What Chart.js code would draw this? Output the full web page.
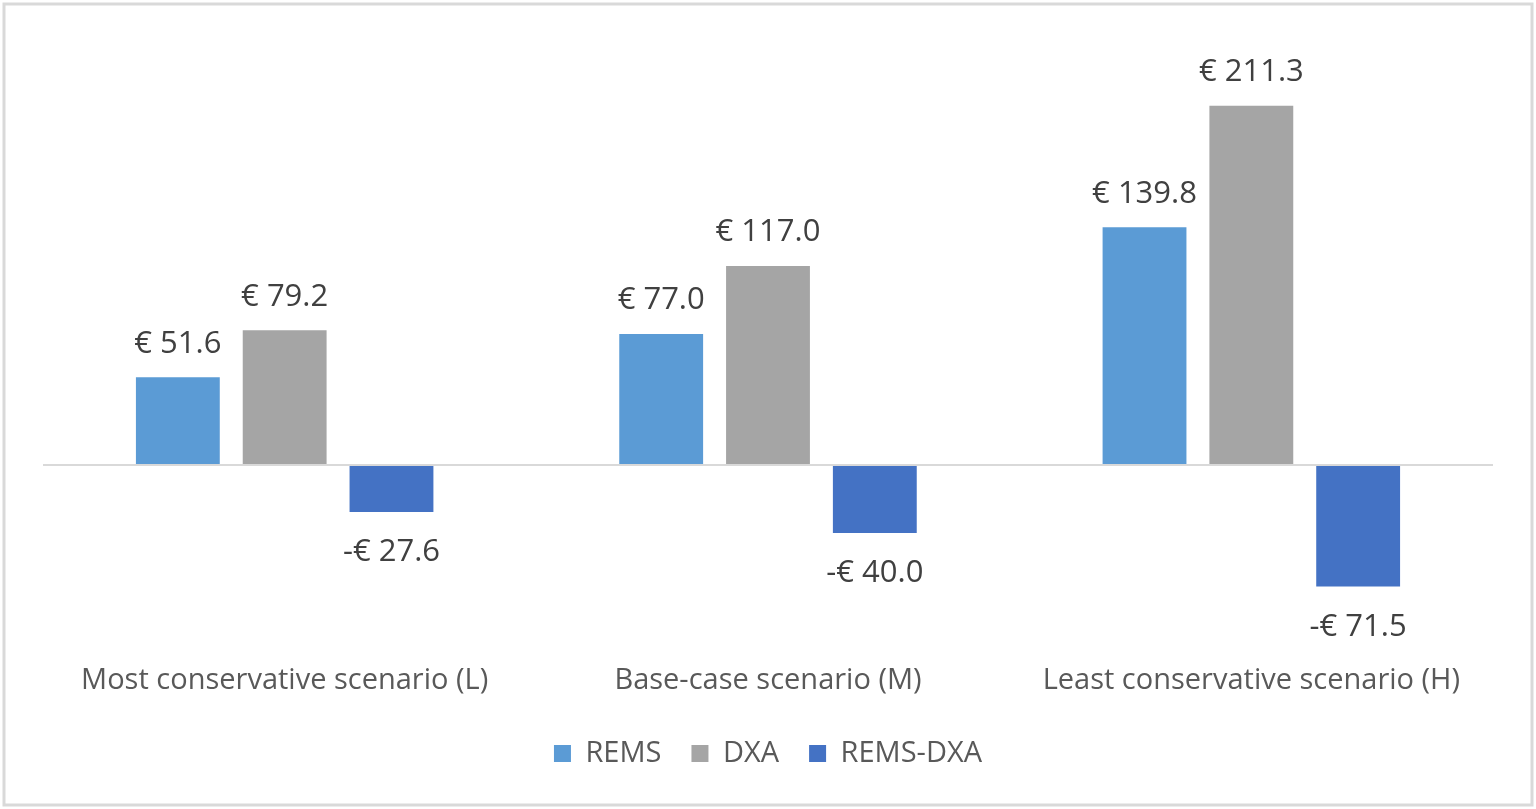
<!DOCTYPE html>
<html>
<head>
<meta charset="utf-8">
<script src="https://cdn.jsdelivr.net/npm/chart.js@4.4.0/dist/chart.umd.min.js"></script>
<style>
  html, body { margin: 0; padding: 0; background: #fff; }
  #wrap { width: 1536px; height: 809px; }
</style>
</head>
<body>
<div id="wrap"><canvas id="chart"></canvas></div>
<script>
// Scenario costs per patient (EUR)
const scenarios = ["Most conservative scenario (L)", "Base-case scenario (M)", "Least conservative scenario (H)"];
const remsValues = [51.6, 77.0, 139.8];
const dxaValues = [79.2, 117.0, 211.3];
const diffValues = [-27.6, -40.0, -71.5];

const fontFamily = "'Open Sans', 'Noto Sans', sans-serif";

// border around the whole figure
const borderPlugin = {
    id: "frame",
    beforeDraw(chart) {
        const ctx = chart.ctx;
        ctx.save();
        ctx.fillStyle = "#fff";
        ctx.fillRect(0, 0, chart.width, chart.height);
        ctx.strokeStyle = "#d9d9d9";
        ctx.lineWidth = 3;
        ctx.strokeRect(4, 4, chart.width - 8, chart.height - 8);
        ctx.restore();
    }
};

// value labels above / below the bars
const labelPlugin = {
    id: "valueLabels",
    afterDatasetsDraw(chart) {
        const ctx = chart.ctx;
        ctx.save();
        ctx.font = "31px " + fontFamily;
        ctx.fillStyle = "#404040";
        ctx.textAlign = "center";
        chart.data.datasets.forEach((ds, i) => {
            const meta = chart.getDatasetMeta(i);
            meta.data.forEach((bar, j) => {
                const v = ds.data[j];
                const txt = (v < 0 ? "-€ " : "€ ") + Math.abs(v).toFixed(1);
                if (v >= 0) {
                    ctx.textBaseline = "bottom";
                    ctx.fillText(txt, bar.x, bar.y - 18);
                } else {
                    ctx.textBaseline = "top";
                    ctx.fillText(txt, bar.x, bar.y + 25);
                }
            });
        });
        ctx.restore();
    }
};

new Chart(document.getElementById("chart"), {
    type: "bar",
    data: {
        labels: scenarios,
        datasets: [
            { label: "REMS", data: remsValues, backgroundColor: "#5b9bd5" },
            { label: "DXA", data: dxaValues, backgroundColor: "#a5a5a5" },
            { label: "REMS-DXA", data: diffValues, backgroundColor: "#4472c4" },
        ],
    },
    options: {
        responsive: true,
        maintainAspectRatio: false,
        animation: false,
        categoryPercentage: 0.663,
        barPercentage: 0.785,
        layout: { padding: { left: 43, right: 43, top: 40, bottom: 31 } },
        plugins: {
            legend: {
                position: "bottom",
                labels: {
                    boxWidth: 17,
                    boxHeight: 17,
                    padding: 30,
                    color: "#595959",
                    font: { family: fontFamily, size: 29 },
                },
            },
            tooltip: { enabled: false },
        },
        scales: {
            x: {
                grid: { display: false },
                border: { display: false },
                ticks: {
                    color: "#595959",
                    padding: 20,
                    font: { family: fontFamily, size: 29 },
                },
                afterFit: (scale) => { scale.height = 74; },
            },
            y: {
                min: -100,
                max: 250,
                border: { display: false },
                ticks: { display: false, stepSize: 50 },
                grid: {
                    drawTicks: false,
                    lineWidth: 2,
                    color: (c) => (c.tick && c.tick.value === 0 ? "#d9d9d9" : "rgba(0,0,0,0)"),
                },
            },
        },
    },
    plugins: [borderPlugin, labelPlugin],
});
</script>
</body>
</html>
